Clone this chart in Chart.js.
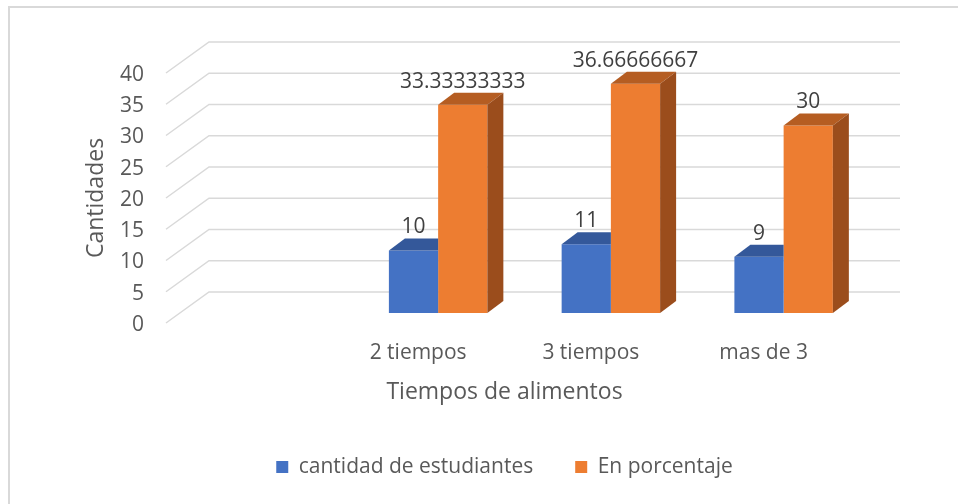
<!DOCTYPE html>
<html>
<head>
<meta charset="utf-8">
<script src="https://cdn.jsdelivr.net/npm/chart.js@4/dist/chart.umd.min.js"></script>
<style>
  html, body { margin: 0; padding: 0; background: #fff; overflow: hidden; }
  #frame { position: absolute; left: 8px; top: 6px; width: 1000px; height: 600px;
           border-left: 2px solid #d9d9d9; border-top: 2px solid #d9d9d9; }
  #wrap { position: absolute; left: 0; top: 0; width: 958px; height: 504px; }
</style>
</head>
<body>
<div id="frame"></div>
<div id="wrap"><canvas id="myChart"></canvas></div>
<script>
// chart data
const categories = ["", "2 tiempos", "3 tiempos", "mas de 3"];
const estudiantes = [null, 10, 11, 9];
const porcentaje = [null, 33.33333333, 36.66666667, 30];
const yTicks = [0, 5, 10, 15, 20, 25, 30, 35, 40];

const FONT = "'Open Sans'";
const DX = 16, DY = -12; // bar depth
const SHIFT_X = 20, SHIFT_Y = -10; // bars sit behind the front plane

// back wall grid with the diagonal floor/side lines, 3d faces and value labels
const wallGrid = {
  id: "wallGrid",
  beforeDatasetsDraw(chart) {
    const ctx = chart.ctx;
    const y = chart.scales.y;
    const area = chart.chartArea;
    ctx.save();
    ctx.strokeStyle = "#d9d9d9";
    ctx.lineWidth = 1.5;
    y.ticks.forEach((t) => {
      const py = y.getPixelForValue(t.value);
      ctx.beginPath();
      ctx.moveTo(area.left + 7, py);
      ctx.lineTo(area.left + 50, py - 31);
      ctx.lineTo(area.right + 50, py - 31);
      ctx.stroke();
    });
    ctx.restore();
    // move bars into the middle depth
    ctx.save();
    ctx.translate(SHIFT_X, SHIFT_Y);
  },
  afterDatasetDraw(chart, args) {
    const ctx = chart.ctx;
    const ds = chart.data.datasets[args.index];
    const last = args.index === chart.data.datasets.length - 1;
    args.meta.data.forEach((el, i) => {
      if (ds.data[i] == null) return;
      const p = el.getProps(["x", "y", "base", "width"], true);
      const l = p.x - p.width / 2, r = p.x + p.width / 2;
      // top face (the part behind the taller neighbour is hidden)
      ctx.fillStyle = ds.topColor;
      ctx.beginPath();
      ctx.moveTo(l, p.y);
      ctx.lineTo(l + DX, p.y + DY);
      ctx.lineTo(last ? r + DX : r, p.y + DY);
      ctx.lineTo(r, p.y);
      ctx.closePath();
      ctx.fill();
      if (!last) return;
      ctx.fillStyle = ds.sideColor;
      ctx.beginPath();
      ctx.moveTo(r, p.y);
      ctx.lineTo(r + DX, p.y + DY);
      ctx.lineTo(r + DX, p.base + DY);
      ctx.lineTo(r, p.base);
      ctx.closePath();
      ctx.fill();
    });
  },
  afterDatasetsDraw(chart) {
    const ctx = chart.ctx;
    ctx.fillStyle = "#404040";
    ctx.font = "21px " + FONT;
    ctx.textAlign = "center";
    ctx.textBaseline = "middle";
    chart.data.datasets.forEach((ds, d) => {
      chart.getDatasetMeta(d).data.forEach((el, i) => {
        if (ds.data[i] == null) return;
        ctx.fillText(String(ds.data[i]), el.x, el.y - 23);
      });
    });
    ctx.restore();
  }
};

const ctx = document.getElementById("myChart");
new Chart(ctx, {
  type: "bar",
  data: {
    labels: categories,
    datasets: [
      {
        label: "cantidad de estudiantes",
        data: estudiantes,
        backgroundColor: "#4472c4",
        topColor: "#34589a",
        sideColor: "#2b4c87"
      },
      {
        label: "En porcentaje",
        data: porcentaje,
        backgroundColor: "#ed7d31",
        topColor: "#b55d22",
        sideColor: "#9b4d1c"
      }
    ]
  },
  options: {
    responsive: true,
    maintainAspectRatio: false,
    animation: false,
    datasets: { bar: { barPercentage: 1, categoryPercentage: 0.57 } },
    layout: { padding: { left: 0, top: 73, right: 108, bottom: 16.5 } },
    scales: {
      x: {
        grid: { display: false, drawTicks: false },
        border: { display: false },
        ticks: { color: "#595959", font: { family: FONT, size: 21 }, padding: 17, maxRotation: 0 },
        title: {
          display: true,
          text: "Tiempos de alimentos",
          color: "#595959",
          font: { family: FONT, size: 23 },
          padding: { top: 0, bottom: 8.7 }
        },
        afterFit: (s) => { s.height = 91.5; }
      },
      y: {
        min: 0,
        max: 40,
        afterBuildTicks: (s) => { s.ticks = yTicks.map((v) => ({ value: v })); },
        grid: { display: false, drawTicks: false },
        border: { display: false },
        ticks: { color: "#595959", font: { family: FONT, size: 21 }, padding: 15, labelOffset: 2 },
        title: {
          display: true,
          text: "Cantidades",
          color: "#595959",
          font: { family: FONT, size: 23 },
          padding: { top: 83, bottom: 0 }
        },
        afterFit: (s) => { s.width = 159; }
      }
    },
    plugins: {
      tooltip: { enabled: false },
      legend: {
        position: "bottom",
        fullSize: false,
        labels: {
          color: "#595959",
          font: { family: FONT, size: 21 },
          boxWidth: 12,
          boxHeight: 12,
          padding: 42
        }
      }
    }
  },
  plugins: [wallGrid]
});
</script>
</body>
</html>
